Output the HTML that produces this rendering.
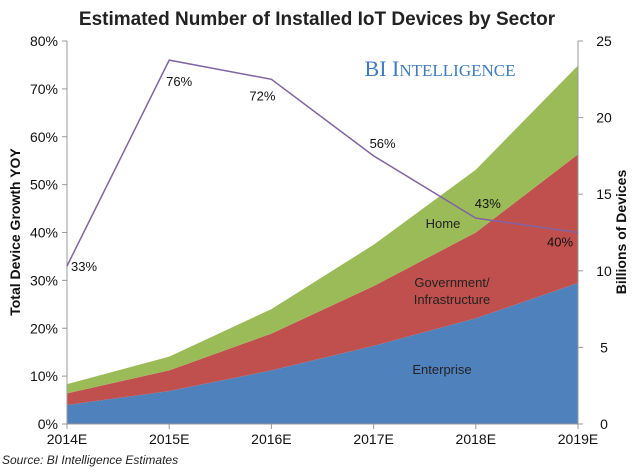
<!DOCTYPE html>
<html><head><meta charset="utf-8"><style>
body{margin:0;background:#fff;font-family:"Liberation Sans",sans-serif;}
svg text{font-family:"Liberation Sans",sans-serif;}
</style></head><body>
<svg id="chart" width="634" height="467" viewBox="0 0 634 467">
<text x="317" y="25" text-anchor="middle" font-size="19" font-weight="bold" fill="#222">Estimated Number of Installed IoT Devices by Sector</text>
<text x="440" y="76" text-anchor="middle" font-size="22" fill="#3e7cbf" style="font-family:'Liberation Serif',serif">BI I<tspan font-size="17">NTELLIGENCE</tspan></text>
<g id="areas"></g>
<g id="axes"></g>
<g id="line"></g>
<text x="20" y="232" transform="rotate(-90 20 232)" text-anchor="middle" font-size="14" font-weight="bold" fill="#111">Total Device Growth YOY</text>
<text x="626" y="232" transform="rotate(-90 626 232)" text-anchor="middle" font-size="14" font-weight="bold" fill="#111">Billions of Devices</text>
<text x="2" y="464" font-size="12" font-style="italic" fill="#222">Source: BI Intelligence Estimates</text>
<text x="442" y="374" text-anchor="middle" font-size="13" fill="#222">Enterprise</text>
<text x="452" y="287" text-anchor="middle" font-size="13" fill="#222">Government/</text>
<text x="452" y="304" text-anchor="middle" font-size="13" fill="#222">Infrastructure</text>
<text x="443" y="228" text-anchor="middle" font-size="13" fill="#222">Home</text>
</svg>
<script>
const categories=["2014E","2015E","2016E","2017E","2018E","2019E"];
const enterprise=[1.24,2.15,3.5,5.1,6.9,9.2];
const government=[0.76,1.35,2.4,3.9,5.6,8.4];
const home=[0.6,0.9,1.6,2.7,4.1,5.8];
const growth=[33,76,72,56,43,40];
const leftTicks=[0,10,20,30,40,50,60,70,80];
const rightTicks=[0,5,10,15,20,25];
const NS="http://www.w3.org/2000/svg";
const x0=67,x1=578,yT=41,yB=424;
const xs=i=>x0+(x1-x0)*i/(categories.length-1);
const yR=v=>yB-(yB-yT)*v/25;
const yL=v=>yB-(yB-yT)*v/80;
function mk(tag,attrs,parent){const e=document.createElementNS(NS,tag);for(const k in attrs)e.setAttribute(k,attrs[k]);parent.appendChild(e);return e;}
const areas=document.getElementById('areas');
const series=[[enterprise,"#4f81bd","area-enterprise"],[government,"#c0504d","area-government"],[home,"#9bbb59","area-home"]];
let base=categories.map(()=>0);
series.forEach(([vals,col,name])=>{
  const top=base.map((b,i)=>b+vals[i]);
  let d="M"+top.map((v,i)=>xs(i)+","+yR(v)).join(" L");
  for(let i=categories.length-1;i>=0;i--)d+=" L"+xs(i)+","+yR(base[i]);
  const p=mk('path',{d:d+"Z",fill:col},areas);
  
  
  base=top;
});
const ax=document.getElementById('axes');
const AC="#999";
const a1=mk('line',{x1:x0,y1:yT,x2:x0,y2:yB,stroke:AC},ax);


const a2=mk('line',{x1:x1,y1:yT,x2:x1,y2:yB,stroke:AC},ax);


const a3=mk('line',{x1:x0,y1:yB,x2:x1,y2:yB,stroke:AC},ax);


leftTicks.forEach(v=>{
  mk('line',{x1:x0-5,y1:yL(v),x2:x0,y2:yL(v),stroke:AC},ax);
  const t=mk('text',{x:x0-9,y:yL(v)+5,"text-anchor":"end","font-size":14,fill:"#111"},ax);
  t.textContent=v+"%";
  
  
});
rightTicks.forEach(v=>{
  mk('line',{x1:x1,y1:yR(v),x2:x1+5,y2:yR(v),stroke:AC},ax);
  const t=mk('text',{x:x1+26,y:yR(v)+5,"text-anchor":"middle","font-size":14,fill:"#111"},ax);
  t.textContent=v;
  
  
});
categories.forEach((c,i)=>{
  mk('line',{x1:xs(i),y1:yB,x2:xs(i),y2:yB+5,stroke:AC},ax);
  const t=mk('text',{x:xs(i),y:yB+20,"text-anchor":"middle","font-size":14,fill:"#111"},ax);
  t.textContent=c;
  
  
});
const lg=document.getElementById('line');
const pl=mk('polyline',{points:growth.map((v,i)=>xs(i)+","+yL(v)).join(" "),fill:"none",stroke:"#8064a2","stroke-width":1.5},lg);


const offs=[[17,5],[10,26],[-9,21],[9,-8],[12,-10],[-18,14]];
growth.forEach((v,i)=>{
  const t=mk('text',{x:xs(i)+offs[i][0],y:yL(v)+offs[i][1],"text-anchor":"middle","font-size":13,fill:"#111"},lg);
  t.textContent=v+"%";
  
  
});
</script>
</body></html>
